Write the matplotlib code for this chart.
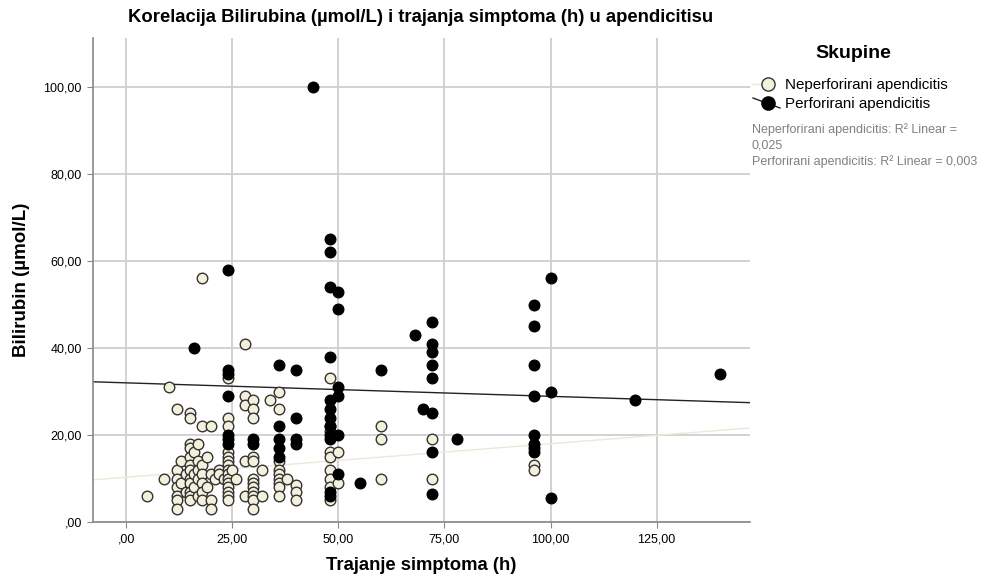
import numpy as np
import matplotlib
matplotlib.use("Agg")
import matplotlib.pyplot as plt
from matplotlib.lines import Line2D

plt.rcParams['font.family'] = ['Liberation Sans', 'DejaVu Sans']

# ---- data ----
nep_x = [5, 9, 10, 12, 12, 12, 12, 12, 12, 12, 13, 13, 14, 14,
         15, 15, 15, 15, 15, 15, 15, 15, 15, 15, 15, 15,
         16, 16, 16, 17, 17, 17, 17, 17,
         18, 18, 18, 18, 18, 18, 18, 19, 19,
         20, 20, 20, 20, 21, 22, 22, 23,
         24, 24, 24, 24, 24, 24, 24, 24, 24, 24, 24, 24, 24, 24, 24,
         25, 26, 28, 28, 28, 28, 28,
         30, 30, 30, 30, 30, 30, 30, 30, 30, 30, 30, 30,
         32, 32, 34,
         36, 36, 36, 36, 36, 36, 36, 36, 36,
         38, 40, 40, 40,
         48, 48, 48, 48, 48, 48, 48, 48, 48,
         50, 50, 60, 60, 60, 72, 72, 96, 96]
nep_y = [6, 10, 31, 26, 12, 10, 8, 6, 5, 3, 14, 9, 11, 7,
         25, 24, 18, 17, 15, 13, 12, 10, 9, 7, 6, 5,
         16, 11, 8, 18, 14, 12, 10, 6,
         56, 22, 13, 11, 9, 7, 5, 15, 8,
         22, 11, 5, 3, 10, 12, 11, 10,
         33, 24, 22, 16, 15, 14, 13, 12, 11, 10, 9, 8, 7, 6, 5,
         12, 10, 41, 29, 27, 14, 6,
         28, 26, 24, 15, 14, 10, 9, 8, 7, 6, 5, 3,
         6, 12, 28,
         30, 26, 14, 12, 11, 10, 9, 8, 6,
         10, 8.5, 7, 5,
         33, 22, 21, 16, 15, 12, 10, 8, 5,
         16, 9, 22, 19, 10, 19, 10, 13, 12]

per_x = [16, 24, 24, 24, 24, 24, 24, 24, 30, 30, 36, 36, 36, 36, 36,
         40, 40, 40, 40, 44,
         48, 48, 48, 48, 48, 48, 48, 48, 48, 48, 48, 48,
         50, 50, 50, 50, 50, 50,
         55, 60, 68, 70, 72, 72, 72, 72, 72, 72, 72, 72, 78,
         96, 96, 96, 96, 96, 96, 96, 96,
         100, 100, 100, 120, 140]
per_y = [40, 58, 35, 34, 29, 20, 19, 18, 19, 18, 36, 22, 19, 17, 15,
         35, 24, 19, 18, 100,
         65, 62, 54, 38, 28, 26, 24, 22, 20, 19, 7, 6,
         53, 49, 31, 29, 20, 11,
         9, 35, 43, 26, 46, 41, 39, 36, 33, 25, 16, 6.5, 19,
         50, 45, 36, 29, 20, 18, 17, 16,
         56, 30, 5.5, 28, 34]

# fit lines (intercept, slope)
nep_fit = (10.3, 0.077)
per_fit = (32.0, -0.031)

x_ticks = [0, 25, 50, 75, 100, 125]
x_labels = [",00", "25,00", "50,00", "75,00", "100,00", "125,00"]
y_ticks = [0, 20, 40, 60, 80, 100]
y_labels = [",00", "20,00", "40,00", "60,00", "80,00", "100,00"]

title = "Korelacija Bilirubina (µmol/L) i trajanja simptoma (h) u apendicitisu"
xlabel = "Trajanje simptoma (h)"
ylabel = "Bilirubin (µmol/L)"
legend_title = "Skupine"
series_names = ["Neperforirani apendicitis", "Perforirani apendicitis"]
r2_text = ["Neperforirani apendicitis: R² Linear =", "0,025",
           "Perforirani apendicitis: R² Linear = 0,003"]

cream = "#f3f0dc"
W, H = 987, 582
fig = plt.figure(figsize=(W / 100, H / 100), dpi=100)
ax = fig.add_axes([93 / W, 1 - 522 / H, (750 - 93) / W, (522 - 38) / H])

xmin, xmax = -7.8, 147.0
ymin, ymax = 0, 111.3
ax.set_xlim(xmin, xmax)
ax.set_ylim(ymin, ymax)

ax.grid(True, color="#cfcfcf", linewidth=1.3, zorder=0)
ax.set_axisbelow(True)

xs = np.array([xmin, xmax])
ax.plot(xs, nep_fit[0] + nep_fit[1] * xs, color="#ece8d8", lw=1.0, zorder=1)
ax.plot(xs, per_fit[0] + per_fit[1] * xs, color="#222222", lw=1.0, zorder=1)

ax.scatter(nep_x, nep_y, s=58, facecolor=cream, edgecolor="#333333",
           linewidth=1.0, zorder=3)
ax.scatter(per_x, per_y, s=58, facecolor="black", edgecolor="black",
           linewidth=1.0, zorder=4)

ax.set_xticks(x_ticks)
ax.set_xticklabels(x_labels, fontsize=9)
ax.set_yticks(y_ticks)
ax.set_yticklabels(y_labels, fontsize=9)
ax.tick_params(length=4, color="#888888", width=0.8, pad=4)
for s in ["top", "right"]:
    ax.spines[s].set_visible(False)
for s in ["left", "bottom"]:
    ax.spines[s].set_color("#888888")
    ax.spines[s].set_linewidth(1.2)

fig.text(421 / W, 1 - 18 / H, title, ha="center", va="center",
         fontsize=13.3, fontweight="bold")
fig.text(421 / W, 1 - 565 / H, xlabel, ha="center", va="center",
         fontsize=13.3, fontweight="bold")
fig.text(22 / W, 1 - 280 / H, ylabel, ha="center", va="center",
         fontsize=13.5, fontweight="bold", rotation=90)

# legend
fig.text(853 / W, 1 - 54 / H, legend_title, ha="center", va="center",
         fontsize=14, fontweight="bold")
fig.add_artist(Line2D([752 / W, 762 / W], [1 - 84 / H, 1 - 84 / H],
                      color="#ece8d8", lw=1.0))
fig.add_artist(Line2D([768 / W], [1 - 84 / H], marker="o", markersize=9.5,
                      markerfacecolor=cream, markeredgecolor="#333333",
                      markeredgewidth=1.0, linestyle="none"))
fig.add_artist(Line2D([753 / W, 780 / W], [1 - 98 / H, 1 - 108 / H],
                      color="#222222", lw=1.0))
fig.add_artist(Line2D([768 / W], [1 - 103 / H], marker="o", markersize=9.5,
                      markerfacecolor="black", markeredgecolor="black",
                      linestyle="none"))
fig.text(785 / W, 1 - 85 / H, series_names[0], ha="left", va="center",
         fontsize=10.9)
fig.text(785 / W, 1 - 104 / H, series_names[1], ha="left", va="center",
         fontsize=10.9)
for i, t in enumerate(r2_text):
    fig.text(752 / W, 1 - (130 + 16 * i) / H, t, ha="left", va="center",
             fontsize=9, color="#808080")

fig.savefig("out.png", dpi=100)
